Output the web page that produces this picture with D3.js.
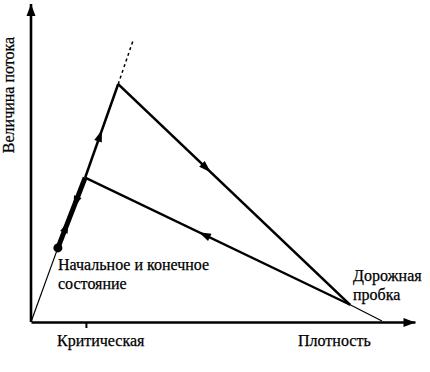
<!DOCTYPE html>
<html>
<head>
<meta charset="utf-8">
<script src="https://cdn.jsdelivr.net/npm/d3@7"></script>
<style>
  body { margin: 0; background: #fff; }
</style>
</head>
<body>
<svg id="chart"></svg>
<script>
// density (x) / flow (y), both in 0..100 units
const pOrigin = [0, 0];
const pStart = [7.0, 23.3];      // начальное и конечное состояние
const pLowPeak = [14.1, 45.4];
const pHighPeak = [22.7, 74.8];
const pDashEnd = [26.6, 88.6];
const pJam = [83.1, 5.4];        // дорожная пробка
const pEnd = [91.4, 0.3];
const criticalDensity = 14.3;

// segments: from, to, stroke width, dashed
const segments = [
  { from: pOrigin, to: pStart, w: 1.2 },
  { from: pStart, to: pLowPeak, w: 5 },
  { from: pLowPeak, to: pHighPeak, w: 2.6 },
  { from: pHighPeak, to: pDashEnd, w: 1.5, dash: "3,3" },
  { from: pHighPeak, to: pJam, w: 2.6 },
  { from: pJam, to: pLowPeak, w: 2.3 },
  { from: pJam, to: pEnd, w: 1.2 }
];

// arrowheads: segment start/end and position along it
const arrows = [
  { from: pLowPeak, to: pHighPeak, t: 0.45 },
  { from: pHighPeak, to: pJam, t: 0.38 },
  { from: pJam, to: pLowPeak, t: 0.55 },
  { from: pStart, to: pLowPeak, t: 0.3 },
  { from: pLowPeak, to: pStart, t: 0.35 }
];

const width = 430, height = 372;
const svg = d3.select("#chart").attr("width", width).attr("height", height);

const x = d3.scaleLinear().domain([0, 100]).range([31, 415]);
const y = d3.scaleLinear().domain([0, 100]).range([322, 4]);

const defs = svg.append("defs");
defs.append("marker")
    .attr("id", "axisArrow")
    .attr("viewBox", "0 -5 12 10")
    .attr("refX", 12).attr("refY", 0)
    .attr("markerUnits", "userSpaceOnUse")
    .attr("markerWidth", 13).attr("markerHeight", 10)
    .attr("orient", "auto")
  .append("path")
    .attr("d", "M0,-4.5L12,0L0,4.5Z")
    .attr("fill", "#000");

// x axis
const xAxis = svg.append("g")
    .attr("transform", `translate(0,${y(0)})`)
    .call(d3.axisBottom(x).tickValues([criticalDensity]).tickFormat("").tickSizeInner(6).tickSizeOuter(0));
xAxis.select(".domain").attr("stroke-width", 2.6).attr("marker-end", "url(#axisArrow)");
xAxis.selectAll(".tick line").attr("stroke-width", 2);

// y axis
const yAxis = svg.append("g")
    .attr("transform", `translate(${x(0)},0)`)
    .call(d3.axisLeft(y).tickValues([]).tickSizeOuter(0));
yAxis.select(".domain").attr("stroke-width", 2.6)
    .attr("d", `M0,${y(0)}V${y(100)}`)
    .attr("marker-end", "url(#axisArrow)");

const line = d3.line().x(d => x(d[0])).y(d => y(d[1]));

svg.append("g").selectAll("path")
  .data(segments)
  .enter().append("path")
    .attr("d", d => line([d.from, d.to]))
    .attr("fill", "none")
    .attr("stroke", "#000")
    .attr("stroke-width", d => d.w)
    .attr("stroke-dasharray", d => d.dash || null);

// arrowheads along the curve
svg.append("g").selectAll("path")
  .data(arrows)
  .enter().append("path")
    .attr("d", "M6,0L-6,-4L-6,4Z")
    .attr("fill", "#000")
    .attr("transform", d => {
      const x0 = x(d.from[0]), y0 = y(d.from[1]), x1 = x(d.to[0]), y1 = y(d.to[1]);
      const px = x0 + (x1 - x0) * d.t, py = y0 + (y1 - y0) * d.t;
      const ang = Math.atan2(y1 - y0, x1 - x0) * 180 / Math.PI;
      return `translate(${px},${py}) rotate(${ang})`;
    });

svg.append("circle")
    .attr("cx", x(pStart[0])).attr("cy", y(pStart[1]))
    .attr("r", 4.5).attr("fill", "#000");

// labels
const labels = svg.append("g")
    .style("font-family", "\"Liberation Serif\", serif")
    .style("font-size", "16px")
    .attr("fill", "#000")
    .attr("stroke", "#000")
    .attr("stroke-width", 0.25);
labels.append("text").attr("x", 58).attr("y", 270).text("Начальное и конечное");
labels.append("text").attr("x", 58).attr("y", 288.5).text("состояние");
labels.append("text").attr("x", 353).attr("y", 281).text("Дорожная");
labels.append("text").attr("x", 353).attr("y", 299.5).text("пробка");
labels.append("text").attr("x", 57).attr("y", 346).text("Критическая");
labels.append("text").attr("x", 298).attr("y", 346).text("Плотность");
labels.append("text")
    .attr("transform", "translate(14,95) rotate(-90)")
    .attr("text-anchor", "middle")
    .text("Величина потока");
</script>
</body>
</html>
